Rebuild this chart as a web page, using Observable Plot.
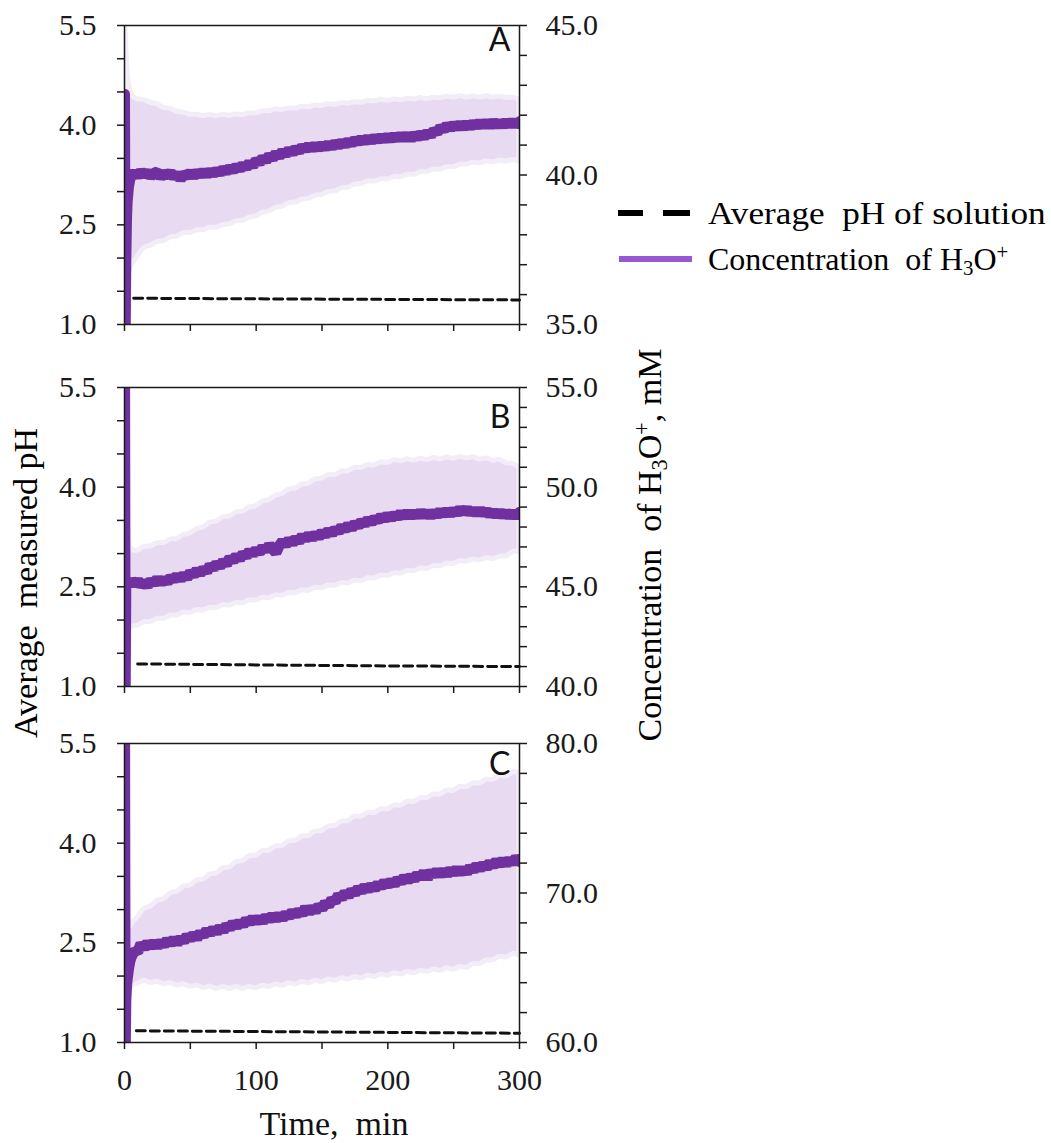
<!DOCTYPE html>
<html>
<head>
<meta charset="utf-8">
<script src="https://cdn.jsdelivr.net/npm/d3@7"></script>
<script src="https://cdn.jsdelivr.net/npm/@observablehq/plot@0.6"></script>
<style>
  html, body { margin: 0; padding: 0; background: #fff; }
  #root { position: relative; width: 1051px; height: 1143px; overflow: hidden;
          font-family: "Liberation Serif", "Times New Roman", serif; color: #000; }
  .panel { position: absolute; left: 0; width: 640px; }
  .panel svg { position: absolute; left: 0; top: 0; }
  .vtitle { position: absolute; white-space: pre; line-height: 1; transform: translate(-50%, -50%) rotate(-90deg); }
  .legtext { position: absolute; white-space: pre; line-height: 1; font-size: 32px; transform-origin: 0 50%; }
  .bar { position: absolute; height: 6px; }
  sub, sup { font-size: 65%; line-height: 0; }
  sub { vertical-align: -0.25em; }
  sup { vertical-align: 0.55em; }
</style>
</head>
<body>
<div id="root"></div>
<script>
// ---------------- data ----------------
// time (min) for the mean H3O+ curves: dense start, then every 2.5 min
const meanTimeStart = [0, 0.5, 1, 1.5, 2, 3, 4];
const meanTimeGrid = Array.from({length: 119}, (_, i) => 5 + 2.5 * i);
const meanTime = meanTimeStart.concat(meanTimeGrid);

// time (min) for the standard-deviation bands
const bandTime = [0, 2].concat(Array.from({length: 60}, (_, i) => 5 + 5 * i));

// time (min) for the dashed pH lines
const dashTimeA = [7, 100, 200, 300];
const dashTimeB = [10, 100, 200, 300];
const dashTimeC = [9, 100, 200, 300];

// Panel A  (concentration axis 35-45 mM)
const meanA = [42.7, 34.5, 37.2, 38.5, 39.1, 39.6, 39.85,
  39.95, 40.08, 39.97, 40.12, 40.00, 40.09, 39.96, 40.06, 40.10, 39.94,
  40.05, 39.98, 40.09, 39.93, 40.04, 39.86, 40.03, 39.97, 40.08, 39.95,
  40.10, 40.00, 40.12, 39.99, 40.14, 40.03, 40.16, 40.06, 40.21, 40.10,
  40.25, 40.13, 40.30, 40.18, 40.35, 40.24, 40.42, 40.30, 40.50, 40.40,
  40.58, 40.47, 40.66, 40.55, 40.73, 40.61, 40.80, 40.68, 40.85, 40.72,
  40.90, 40.78, 40.96, 40.85, 40.99, 40.86, 41.01, 40.88, 41.02, 40.90,
  41.05, 40.93, 41.08, 40.97, 41.11, 40.99, 41.15, 41.03, 41.19, 41.08,
  41.22, 41.10, 41.25, 41.12, 41.27, 41.15, 41.29, 41.17, 41.30, 41.18,
  41.33, 41.20, 41.34, 41.21, 41.35, 41.19, 41.36, 41.24, 41.38, 41.27,
  41.43, 41.31, 41.50, 41.42, 41.60, 41.50, 41.68, 41.55, 41.70, 41.57,
  41.72, 41.58, 41.73, 41.60, 41.75, 41.62, 41.77, 41.64, 41.78, 41.63,
  41.79, 41.65, 41.78, 41.64, 41.80, 41.66, 41.81, 41.67, 41.78];
const lowerA = [35.0, 36.6,
  37.00, 37.25, 37.62, 37.60, 37.80, 37.75, 37.95, 37.90, 38.10, 38.02,
  38.18, 38.12, 38.27, 38.20, 38.36, 38.31, 38.49, 38.43, 38.61, 38.57,
  38.77, 38.74, 38.94, 38.90, 39.10, 39.04, 39.22, 39.16, 39.35, 39.29,
  39.47, 39.41, 39.59, 39.54, 39.72, 39.66, 39.82, 39.74, 39.90, 39.81,
  39.97, 39.89, 40.05, 39.97, 40.13, 40.06, 40.22, 40.14, 40.30, 40.22,
  40.39, 40.31, 40.45, 40.35, 40.49, 40.39, 40.53, 40.42, 40.54, 40.45];
const upperA = [46.0, 43.2,
  42.65, 42.50, 42.55, 42.38, 42.40, 42.20, 42.25, 42.08, 42.12, 41.98,
  42.05, 41.93, 42.04, 41.94, 42.05, 41.95, 42.06, 41.97, 42.10, 42.02,
  42.17, 42.10, 42.23, 42.14, 42.26, 42.18, 42.32, 42.23, 42.36, 42.27,
  42.40, 42.31, 42.44, 42.35, 42.47, 42.38, 42.51, 42.43, 42.55, 42.45,
  42.56, 42.46, 42.59, 42.49, 42.61, 42.50, 42.62, 42.53, 42.66, 42.55,
  42.67, 42.55, 42.66, 42.55, 42.67, 42.55, 42.66, 42.55, 42.62, 42.50];
const pHA = [1.395, 1.386, 1.378, 1.370];

// Panel B  (concentration axis 40-55 mM)
const meanB = [58.0, 39.5, 45.0, 45.25, 45.15, 45.35, 45.2,
  45.35, 45.10, 45.34, 45.07, 45.23, 45.05, 45.33, 45.15, 45.42, 45.18,
  45.41, 45.21, 45.50, 45.33, 45.57, 45.36, 45.62, 45.43, 45.74, 45.57,
  45.85, 45.65, 45.92, 45.75, 46.09, 45.90, 46.19, 46.01, 46.29, 46.12,
  46.46, 46.29, 46.57, 46.38, 46.67, 46.52, 46.82, 46.62, 46.88, 46.70,
  47.00, 46.82, 47.10, 46.90, 46.71, 47.06, 47.28, 47.09, 47.38, 47.17,
  47.44, 47.25, 47.57, 47.38, 47.63, 47.41, 47.67, 47.48, 47.76, 47.57,
  47.84, 47.64, 47.91, 47.74, 48.04, 47.85, 48.12, 47.91, 48.20, 48.02,
  48.31, 48.13, 48.39, 48.19, 48.46, 48.29, 48.57, 48.36, 48.62, 48.40,
  48.66, 48.46, 48.73, 48.51, 48.75, 48.51, 48.75, 48.53, 48.78, 48.54,
  48.77, 48.52, 48.77, 48.56, 48.83, 48.61, 48.85, 48.62, 48.87, 48.66,
  48.94, 48.70, 48.94, 48.67, 48.89, 48.65, 48.89, 48.64, 48.85, 48.58,
  48.80, 48.56, 48.80, 48.54, 48.77, 48.52, 48.75, 48.53, 48.73];
const lowerB = [39.5, 42.6,
  43.08, 42.98, 43.30, 43.17, 43.47, 43.33, 43.62, 43.49, 43.78, 43.62,
  43.90, 43.75, 44.03, 43.87, 44.15, 43.99, 44.27, 44.11, 44.40, 44.24,
  44.52, 44.36, 44.64, 44.48, 44.76, 44.61, 44.89, 44.73, 45.02, 44.86,
  45.14, 44.98, 45.26, 45.10, 45.38, 45.22, 45.50, 45.35, 45.63, 45.47,
  45.75, 45.59, 45.87, 45.71, 45.99, 45.83, 46.11, 45.96, 46.24, 46.08,
  46.36, 46.20, 46.45, 46.26, 46.51, 46.33, 46.58, 46.45, 46.80, 46.75];
const upperB = [56.0, 47.2,
  46.85, 46.74, 47.08, 46.95, 47.27, 47.12, 47.45, 47.31, 47.67, 47.60,
  47.98, 47.90, 48.29, 48.21, 48.57, 48.45, 48.81, 48.70, 49.06, 48.96,
  49.36, 49.27, 49.66, 49.58, 49.96, 49.85, 50.21, 50.10, 50.46, 50.35,
  50.68, 50.53, 50.86, 50.72, 51.05, 50.89, 51.19, 51.01, 51.32, 51.14,
  51.44, 51.22, 51.47, 51.25, 51.50, 51.28, 51.54, 51.31, 51.57, 51.34,
  51.60, 51.37, 51.58, 51.31, 51.52, 51.25, 51.46, 51.13, 51.24, 50.92];
const pHB = [1.340, 1.325, 1.310, 1.300];

// Panel C  (concentration axis 60-80 mM)
const meanC = [84.0, 59.0, 62.8, 63.7, 64.2, 64.9, 65.4,
  65.70, 66.15, 66.05, 66.60, 66.30, 66.70, 66.39, 66.73, 66.40, 66.75,
  66.50, 66.87, 66.57, 66.96, 66.61, 66.99, 66.74, 67.16, 66.89, 67.26,
  66.95, 67.36, 67.12, 67.54, 67.25, 67.63, 67.34, 67.72, 67.45, 67.86,
  67.61, 68.03, 67.72, 68.10, 67.83, 68.24, 67.99, 68.35, 68.03, 68.37,
  68.06, 68.45, 68.17, 68.53, 68.21, 68.56, 68.26, 68.65, 68.38, 68.78,
  68.48, 68.84, 68.56, 69.04, 68.67, 69.04, 68.75, 69.16, 68.92, 69.36,
  69.14, 69.59, 69.40, 69.87, 69.63, 70.05, 69.78, 70.18, 69.94, 70.34,
  70.08, 70.48, 70.17, 70.53, 70.25, 70.65, 70.38, 70.78, 70.47, 70.84,
  70.54, 70.95, 70.70, 71.08, 70.78, 71.15, 70.87, 71.28, 71.01, 71.41,
  70.96, 71.45, 71.16, 71.51, 71.18, 71.52, 71.21, 71.58, 71.28, 71.64,
  71.31, 71.64, 71.35, 71.75, 71.48, 71.88, 71.58, 71.94, 71.66, 72.06,
  71.79, 72.18, 71.88, 72.22, 71.89, 72.27, 71.97, 72.39, 72.11];
const lowerC = [58.0, 62.5,
  63.95, 63.81, 64.28, 63.85, 64.20, 63.76, 64.11, 63.68, 64.03, 63.60,
  63.95, 63.52, 63.87, 63.46, 63.85, 63.46, 63.85, 63.46, 63.85, 63.50,
  63.93, 63.58, 64.01, 63.66, 64.10, 63.75, 64.18, 63.83, 64.27, 63.92,
  64.35, 64.00, 64.43, 64.08, 64.51, 64.16, 64.60, 64.25, 64.68, 64.33,
  64.76, 64.41, 64.85, 64.50, 64.93, 64.58, 65.01, 64.66, 65.09, 64.74,
  65.17, 64.86, 65.37, 65.11, 65.62, 65.36, 65.87, 65.55, 66.02, 65.80];
const upperC = [85.0, 67.0,
  68.00, 68.27, 69.10, 68.96, 69.60, 69.46, 70.10, 69.96, 70.55, 70.37,
  70.96, 70.77, 71.37, 71.18, 71.78, 71.59, 72.19, 72.01, 72.60, 72.37,
  72.93, 72.70, 73.25, 73.02, 73.58, 73.36, 73.91, 73.69, 74.25, 74.02,
  74.58, 74.35, 74.91, 74.68, 75.24, 74.98, 75.49, 75.22, 75.73, 75.47,
  75.98, 75.72, 76.23, 75.97, 76.48, 76.21, 76.73, 76.46, 76.97, 76.71,
  77.22, 76.95, 77.47, 77.20, 77.71, 77.45, 77.96, 77.68, 78.19, 78.00];
const pHC = [1.176, 1.165, 1.152, 1.140];

// axes
const xTicks = [0, 50, 100, 150, 200, 250, 300];
const xLabels = [0, 100, 200, 300];
const pHTicks = [1, 1.5, 2, 2.5, 3, 3.5, 4, 4.5, 5, 5.5];
const pHLabels = [1, 2.5, 4, 5.5];
const concTicksA = [35, 36, 37, 38, 39, 40, 41, 42, 43, 44, 45];
const concLabelsA = [35, 40, 45];
const concTicksB = [40, 41, 42, 43, 44, 45, 46, 47, 48, 49, 50, 51, 52, 53, 54, 55];
const concLabelsB = [40, 45, 50, 55];
const concTicksC = [60, 62, 64, 66, 68, 70, 72, 74, 76, 78, 80];
const concLabelsC = [60, 70, 80];

// ---------------- drawing ----------------
const root = document.getElementById("root");
const W = 640, ML = 124, MR = 121, MT = 25, FH = 299;
const PURPLE = "#7030a0", BAND = "#e8daf0", HALO = "#f3edf8", AXIS = "#1a1a1a";
const FONT = '"Liberation Serif", "Times New Roman", serif';

function fmt(labels, digits) {
  return d => labels.some(v => Math.abs(v - d) < 1e-9) ? d.toFixed(digits) : "";
}

function panel(cfg) {
  const H = MT + FH + cfg.mb;
  const wrap = document.createElement("div");
  wrap.className = "panel";
  wrap.style.top = cfg.top + "px";
  wrap.style.height = H + "px";
  root.appendChild(wrap);

  const meanRows = meanTime.map((t, i) => ({t, c: cfg.mean[i]}));
  const bandRows = bandTime.map((t, i) => ({t, lo: cfg.lower[i], hi: cfg.upper[i]}));
  const dashRows = cfg.dashT.map((t, i) => ({t, pH: cfg.pH[i]}));

  const base = {
    width: W, height: H, marginLeft: ML, marginRight: MR, marginTop: MT, marginBottom: cfg.mb,
    style: {fontFamily: FONT, fontSize: "30px", background: "transparent", color: AXIS, overflow: "visible"}
  };

  const conc = Plot.plot({
    ...base,
    x: {domain: [0, 300], axis: null},
    y: {domain: cfg.cDomain, axis: null},
    marks: [
      Plot.areaY(bandRows, {x: "t", y1: "lo", y2: "hi", fill: BAND, stroke: HALO, strokeWidth: 5,
                            curve: "basis", clip: true}),
      Plot.lineY(meanRows, {x: "t", y: "c", stroke: PURPLE, strokeWidth: 11, curve: "linear",
                            strokeLinejoin: "bevel", clip: true}),
      Plot.axisY({anchor: "right", ticks: cfg.cTicks, tickFormat: fmt(cfg.cLabels, 1),
                  tickSize: 7, tickPadding: 19, strokeWidth: 1.5, label: null, fontSize: 30})
    ]
  });

  const ph = Plot.plot({
    ...base,
    x: {domain: [0, 300], axis: null},
    y: {domain: [1, 5.5], axis: null},
    marks: [
      Plot.lineY(dashRows, {x: "t", y: "pH", stroke: "#111", strokeWidth: 3, strokeDasharray: "9,5"}),
      Plot.frame({stroke: AXIS, strokeWidth: 1.5}),
      Plot.axisY({anchor: "left", ticks: pHTicks, tickFormat: fmt(pHLabels, 1),
                  tickSize: 7, tickPadding: 21, strokeWidth: 1.5, label: null, fontSize: 30}),
      Plot.axisX({anchor: "bottom", ticks: xTicks, tickFormat: cfg.showX ? fmt(xLabels, 0) : () => "",
                  tickSize: 7, tickPadding: 19, strokeWidth: 1.5, label: null, fontSize: 30}),
      Plot.text([cfg.letter], {text: d => d, frameAnchor: "top-right", lineAnchor: "top", textAnchor: "end",
                  dx: -9, dy: cfg.letterDy, fontFamily: "Lato, 'Open Sans', sans-serif", fontSize: 32, fill: "#111"}),
      ...(cfg.showX ? [Plot.text(["Time,  min"], {text: d => d, frameAnchor: "bottom", lineAnchor: "bottom",
                  dx: 12, dy: 92, fontSize: 34, fill: "#111"})] : [])
    ]
  });

  wrap.appendChild(conc);
  wrap.appendChild(ph);
}

panel({top: 0, mb: 30, mean: meanA, lower: lowerA, upper: upperA, dashT: dashTimeA, pH: pHA,
       cDomain: [35, 45], cTicks: concTicksA, cLabels: concLabelsA, letter: "A", letterDy: 3, showX: false});
panel({top: 362, mb: 30, mean: meanB, lower: lowerB, upper: upperB, dashT: dashTimeB, pH: pHB,
       cDomain: [40, 55], cTicks: concTicksB, cLabels: concLabelsB, letter: "B", letterDy: 18, showX: false});
panel({top: 718, mb: 101, mean: meanC, lower: lowerC, upper: upperC, dashT: dashTimeC, pH: pHC,
       cDomain: [60, 80], cTicks: concTicksC, cLabels: concLabelsC, letter: "C", letterDy: 9, showX: true});

// axis titles
const leftTitle = document.createElement("div");
leftTitle.className = "vtitle";
leftTitle.style.cssText = "left:26px;top:583px;font-size:34px;";
leftTitle.textContent = "Average  measured pH";
root.appendChild(leftTitle);

const rightTitle = document.createElement("div");
rightTitle.className = "vtitle";
rightTitle.style.cssText = "left:650px;top:545px;font-size:34px;";
rightTitle.innerHTML = "Concentration  of H<sub>3</sub>O<sup>+</sup>, mM";
root.appendChild(rightTitle);

// legend
const legend = [
  {html: "Average  pH of solution", top: 197, sx: 1.1},
  {html: "Concentration  of H<sub>3</sub>O<sup>+</sup>", top: 243, sx: 1.0}
];
function addBar(left, top, width, color) {
  const b = document.createElement("div");
  b.className = "bar";
  b.style.cssText = `left:${left}px;top:${top}px;width:${width}px;background:${color};`;
  root.appendChild(b);
}
addBar(618, 210, 25, "#000");
addBar(663, 210, 27, "#000");
addBar(619, 256, 73, "#9b57d3");
legend.forEach(l => {
  const s = document.createElement("div");
  s.className = "legtext";
  s.style.cssText = `left:708px;top:${l.top}px;transform:scaleX(${l.sx});`;
  s.innerHTML = l.html;
  root.appendChild(s);
});
</script>
</body>
</html>
